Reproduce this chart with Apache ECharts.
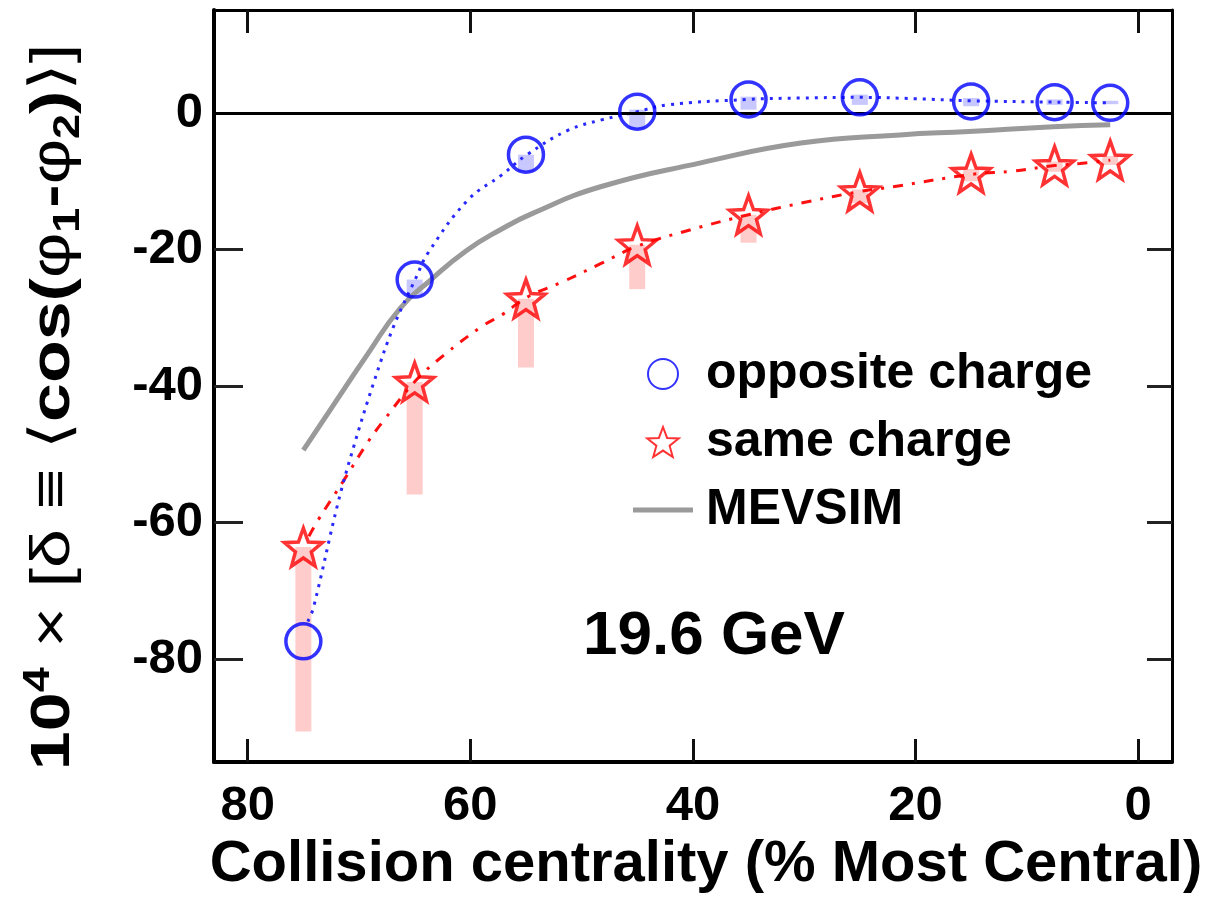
<!DOCTYPE html>
<html><head><meta charset="utf-8">
<script src="https://cdn.jsdelivr.net/npm/echarts@6/dist/echarts.min.js"></script>
<style>html,body{margin:0;padding:0;background:#fff}#c{width:1212px;height:899px}</style>
</head><body><div id="c"></div>
<script>
// ---- data ----
const centrality     = [75, 65, 55, 45, 35, 25, 15, 7.5, 2.5];
const oppositeCharge = [-77.4, -24.4, -6.1, 0.2, 2.0, 2.3, 1.7, 1.6, 1.5];
const sameCharge     = [-63.6, -39.4, -27.2, -19.3, -14.9, -11.5, -8.8, -7.7, -6.9];
const sameSysHigh    = [-63.6, -39.4, -27.2, -19.3, -14.9, -11.2, -8.2, -7.1, -6.3];
const sameSysLow     = [-90.6, -55.9, -37.3, -25.8, -19.0, -13.2, -10.0, -8.6, -7.6];
const oppSysHigh     = [null, -24.4, -6.1, 0.5, 2.4, 2.7, 2.2, 2.0, 1.8];
const oppSysLow      = [null, -26.6, -8.6, -2.4, 0.5, 1.2, 1.0, 1.2, 1.3];

const oppFitX = [74.6, 74.1, 71.9, 70.5, 68.7, 66.9, 64.9, 63.8, 60.2, 57.2, 54.9, 51.2, 48.2, 45, 42.3, 35, 30.3, 25, 20, 15, 7.5, 2.5];
const oppFitY = [-74.5, -72.5, -57.2, -49, -39.6, -31.3, -24.2, -20.5, -12.7, -9.1, -6.1, -2.5, -1.0, 0.2, 1.2, 2.0, 2.2, 2.3, 2.1, 1.8, 1.6, 1.5];

const sameFitX = [74.5, 73.7, 71.4, 69.2, 67.9, 64.9, 62.4, 59.0, 57.2, 54.8, 51.8, 48.2, 45, 40.2, 35, 29.7, 25, 22, 15, 11.2, 7.5, 5.2, 2.5];
const sameFitY = [-62, -59.7, -53.9, -48.2, -45.3, -39.2, -35.5, -31.3, -29.6, -26.9, -24.8, -22, -19.5, -17.1, -14.9, -13.0, -11.5, -10.8, -9, -8.5, -7.7, -7.4, -6.9];

const mevsimX = [75, 72.3, 69.3, 66.3, 63.6, 60.3, 57.3, 54.4, 48.3, 39.3, 30.3, 21.4, 15.2, 7.6, 2.5];
const mevsimY = [-49.4, -42.8, -35.5, -28.6, -24.5, -20.1, -17.1, -14.7, -10.8, -7.3, -4.4, -3.2, -2.7, -2.0, -1.7];

const xTicks = [80, 60, 40, 20, 0];
const yTicks = [0, -20, -40, -60, -80];

const energyLabel = '19.6 GeV';
const xTitle = 'Collision centrality (% Most Central)';
const yTitle = '{b|10}{sup|4}{n| × [δ ≡ ⟨}{b|cos(}{n|φ}{sub|1}{b|-}{n|φ}{sub|2}{b|)}{n|⟩]}';

// ---- chart ----
const FONT = '"Liberation Sans", Arial, "DejaVu Sans", sans-serif';
const starPath = 'path://M100,0 L124.7,66 L195.1,69.1 L139.9,113 L158.8,180.9 L100,142 L41.2,180.9 L60.1,113 L4.9,69.1 L75.3,66 Z';
const zip = (a, b) => a.map((v, i) => [v, b[i]]);
const sysBars = (lo, hi) => centrality.map((x, i) => [x, lo[i], hi[i]]).filter(d => d[1] != null);

function barRenderer(fill) {
  return function (params, api) {
    const x = api.value(0), lo = api.value(1), hi = api.value(2);
    const p1 = api.coord([x, hi]);
    const p2 = api.coord([x, lo]);
    const w = 16;
    return { type: 'rect', shape: { x: p1[0] - w / 2, y: p1[1], width: w, height: p2[1] - p1[1] },
      style: { fill: fill } };
  };
}

const chart = echarts.init(document.getElementById('c'), null, { renderer: 'canvas' });
const xBase = { type: 'value', min: -3.05, max: 83.03, inverse: true, splitLine: { show: false } };
const yBase = { type: 'value', min: -95.1, max: 15.1, splitLine: { show: false } };

chart.setOption({
  animation: false,
  backgroundColor: '#fff',
  grid: { left: 214, right: 40, top: 10, bottom: 136, containLabel: false },
  title: {
    text: energyLabel, left: 578, top: 601,
    textStyle: { fontSize: 62, fontWeight: 'bold', color: '#000', fontFamily: FONT }
  },
  graphic: [{
    type: 'text', x: 54, y: 407, rotation: Math.PI / 2, scaleX: 1.25, scaleY: 1,
    style: {
      text: yTitle, align: 'center', verticalAlign: 'middle', fill: '#000', font: '56px ' + FONT,
      rich: {
        b: { fontSize: 56, fontWeight: 'bold', fontFamily: FONT, fill: '#000', lineHeight: 66 },
        n: { fontSize: 56, fontWeight: 'normal', fontFamily: FONT, fill: '#000', lineHeight: 66 },
        sup: { fontSize: 36, fontWeight: 'bold', fontFamily: FONT, fill: '#000', verticalAlign: 'top', lineHeight: 66 },
        sub: { fontSize: 36, fontWeight: 'bold', fontFamily: FONT, fill: '#000', verticalAlign: 'bottom', lineHeight: 66 }
      }
    }
  }],
  legend: {
    orient: 'vertical', left: 628, top: 343, itemWidth: 60, itemHeight: 30, itemGap: 16,
    textStyle: { fontSize: 50, fontWeight: 'bold', color: '#000', fontFamily: FONT, lineHeight: 52, padding: [0, 0, 0, 8] },
    data: [
      { name: 'opposite charge' },
      { name: 'same charge' },
      { name: 'MEVSIM', icon: 'path://M0,0 L60,0 L60,5 L0,5 Z' }
    ]
  },
  xAxis: [
    Object.assign({}, xBase, {
      position: 'bottom',
      name: xTitle, nameLocation: 'middle', nameGap: 69,
      nameTextStyle: { fontSize: 58, fontWeight: 'bold', color: '#000', fontFamily: FONT, padding: [0, 0, 0, 26] },
      axisLine: { show: true, onZero: false, lineStyle: { color: '#000', width: 4 } },
      axisTick: { show: true, inside: true, length: 23, customValues: xTicks, lineStyle: { color: '#111', width: 3 } },
      axisLabel: { show: true, customValues: xTicks, margin: 20, fontSize: 49, fontWeight: 'bold', color: '#000', fontFamily: FONT }
    }),
    Object.assign({}, xBase, {
      position: 'top',
      axisLine: { show: true, onZero: false, lineStyle: { color: '#000', width: 3 } },
      axisTick: { show: true, inside: true, length: 23, customValues: xTicks, lineStyle: { color: '#111', width: 3 } },
      axisLabel: { show: false }
    })
  ],
  yAxis: [
    Object.assign({}, yBase, {
      position: 'left',
      axisLine: { show: true, onZero: false, lineStyle: { color: '#000', width: 4 } },
      axisTick: { show: true, inside: true, length: 29, customValues: yTicks, lineStyle: { color: '#222', width: 3 } },
      axisLabel: { show: true, customValues: yTicks, margin: 11, fontSize: 49, fontWeight: 'bold', color: '#000', fontFamily: FONT }
    }),
    Object.assign({}, yBase, {
      position: 'right',
      axisLine: { show: true, onZero: false, lineStyle: { color: '#000', width: 3 } },
      axisTick: { show: true, inside: true, length: 25, customValues: yTicks, lineStyle: { color: '#222', width: 3 } },
      axisLabel: { show: false }
    })
  ],
  series: [
    {
      name: 'same sys', type: 'custom', renderItem: barRenderer('#ffcccc'),
      data: sysBars(sameSysLow, sameSysHigh), z: 1, silent: true,
      markLine: { silent: true, symbol: 'none', label: { show: false },
        lineStyle: { color: '#000', width: 3, type: 'solid' }, data: [{ yAxis: 0 }] }
    },
    {
      name: 'opp sys', type: 'custom', renderItem: barRenderer('#c8c8ff'),
      data: sysBars(oppSysLow, oppSysHigh), z: 2, silent: true
    },
    {
      name: 'MEVSIM', type: 'line', data: zip(mevsimX, mevsimY), smooth: 0.5,
      symbol: 'none', lineStyle: { color: '#9a9a9a', width: 5 }, itemStyle: { color: '#9a9a9a' }, z: 3
    },
    {
      name: 'same fit', type: 'line', data: zip(sameFitX, sameFitY), smooth: 0.4,
      symbol: 'none', lineStyle: { color: '#ff1010', width: 3, type: [10, 9, 3, 9] }, z: 4
    },
    {
      name: 'opp fit', type: 'line', data: zip(oppFitX, oppFitY), smooth: 0.4,
      symbol: 'none', lineStyle: { color: '#2828ff', width: 3, type: [3, 6] }, z: 4
    },
    {
      name: 'same charge', type: 'scatter', data: zip(centrality, sameCharge),
      symbol: starPath, symbolSize: [38, 38],
      itemStyle: { color: 'rgba(255,255,255,0)', borderColor: '#ff0000', borderWidth: 3.5 }, z: 5
    },
    {
      name: 'opposite charge', type: 'scatter', data: zip(centrality, oppositeCharge),
      symbol: 'circle', symbolSize: 35,
      itemStyle: { color: 'rgba(255,255,255,0)', borderColor: '#0000ff', borderWidth: 3.5 }, z: 6
    }
  ]
});
</script>
</body></html>
